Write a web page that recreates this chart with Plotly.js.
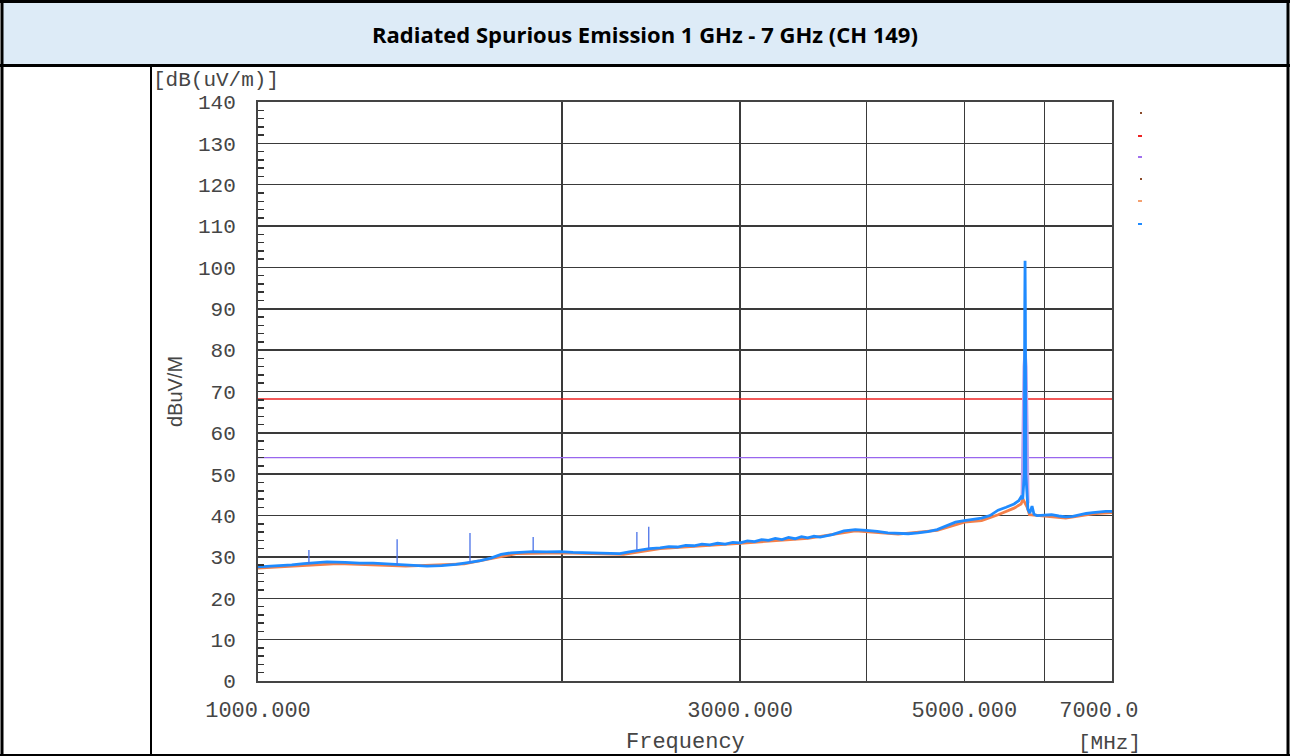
<!DOCTYPE html>
<html>
<head>
<meta charset="utf-8">
<script src="https://cdn.plot.ly/plotly-3.0.1.min.js"></script>
<style>
  body { margin: 0; background: #fff; }
  #myPlot { width: 1290px; height: 756px; }
</style>
</head>
<body>
<div id="myPlot"></div>
<script>
// peak trace (blue), MHz / dBuV/m
const freqs = [1000, 1040, 1080, 1110, 1170, 1220, 1260, 1300, 1340, 1380, 1420, 1470, 1520, 1570, 1620,
  1660, 1700, 1740, 1780, 1820, 1870, 1930, 1990, 2050, 2120, 2200, 2280, 2330, 2380, 2440, 2500,
  2550, 2600, 2650, 2700, 2750, 2800, 2850, 2900, 2950, 3000, 3050, 3100, 3150, 3200, 3250, 3300,
  3350, 3400, 3450, 3500, 3550, 3600, 3700, 3800, 3900, 4000, 4100,
  4200, 4300, 4400, 4500, 4600, 4700, 4800, 4900, 5000, 5100, 5200, 5300, 5400, 5500, 5600, 5660,
  5690, 5712, 5732, 5738, 5742, 5746, 5752, 5780, 5805, 5834, 5860, 5900, 6000, 6100, 6200, 6300,
  6400, 6500, 6600, 6700, 6800, 6900, 7000];
const peakVals = [27.6, 27.8, 28.1, 28.4, 28.8, 28.7, 28.5, 28.5, 28.3, 28.1, 27.9, 27.8, 27.9, 28.2, 28.7,
  29.1, 29.7, 30.6, 31.0, 31.2, 31.3, 31.2, 31.3, 31.1, 31.0, 30.9, 30.8, 31.2, 31.6, 32.0, 32.2,
  32.5, 32.4, 32.8, 32.7, 33.1, 32.9, 33.3, 33.1, 33.5, 33.4, 33.9, 33.7, 34.2, 34.0, 34.5, 34.2,
  34.7, 34.4, 34.9, 34.6, 35.0, 34.8, 35.4, 36.3, 36.6, 36.4, 36.2,
  35.8, 35.7, 35.6, 35.8, 36.1, 36.6, 37.6, 38.4, 38.8, 39.1, 39.4, 40.0, 41.3, 42.0, 42.8, 43.6,
  44.5, 44.0, 50.0, 90.0, 101.6, 90.0, 50.0, 41.5, 40.6, 42.3, 40.3, 40.0, 40.1, 40.2, 39.9, 39.7,
  39.8, 40.2, 40.5, 40.7, 40.9, 41.0, 41.0];

// narrow spurs on the peak trace
const spurFreqs = [1123, 1373, 1621, 1872, 2371, 2436];
const spurBase = [28.4, 28.1, 28.7, 31.3, 31.5, 32.0];
const spurTop = [31.7, 34.3, 35.8, 34.8, 36.0, 37.3];

// average trace (orange)
const avgFreqs = [1000, 1200, 1400, 1600, 1800, 2000, 2300, 2500, 3000, 3500, 3900, 4300, 4700,
  5000, 5200, 5400, 5600, 5690, 5715, 5770, 5800, 6000, 6300, 6700, 7000];
const avgVals = [27.3, 28.4, 27.8, 28.3, 30.8, 31.0, 30.6, 32.0, 33.3, 34.5, 36.3, 35.5, 36.4,
  38.4, 38.8, 40.2, 41.8, 42.8, 44.0, 42.0, 40.2, 39.8, 39.4, 40.4, 40.7];

// average peak (lavender)
const avgPeakFreqs = [5700, 5712, 5725, 5742, 5759, 5772, 5785];
const avgPeakVals = [45.0, 62.0, 76.0, 80.8, 76.0, 62.0, 43.0];

// limit lines
const limitFreqs = [1000, 7000];
const peakLimit = [68.2, 68.2];
const avgLimit = [54, 54];

// axis ticks
const xTickVals = [1000, 2000, 3000, 4000, 5000, 6000, 7000];
const xTickText = ['1000.000', '', '3000.000', '', '5000.000', '', '7000.0\u00a0\u00a0'];

const W = 1290, H = 756;
const px = x => x / W;
const py = y => 1 - y / H;

const mono = 'Liberation Mono, Courier New, monospace';
const textColor = '#454545';
const gridColor = '#3a3a3a';

const spurX = [], spurY = [];
for (let i = 0; i < spurFreqs.length; i++) {
  spurX.push(spurFreqs[i], spurFreqs[i], null);
  spurY.push(spurBase[i], spurTop[i], null);
}

const traces = [
  { x: limitFreqs, y: peakLimit, mode: 'lines', line: { color: '#ee2222', width: 1.4 } },
  { x: limitFreqs, y: avgLimit, mode: 'lines', line: { color: '#9966ee', width: 1.4 } },
  { x: avgFreqs, y: avgVals, mode: 'lines', line: { color: '#f4804a', width: 2.8 } },
  { x: avgPeakFreqs, y: avgPeakVals, mode: 'lines', line: { color: '#b9a2ee', width: 2.5 } },
  { x: freqs, y: peakVals, mode: 'lines', line: { color: '#1f8bff', width: 2.8 } },
  { x: spurX, y: spurY, mode: 'lines', line: { color: '#4a72e8', width: 1.3 } }
];

// table frame
const shapes = [
  { type: 'rect', xref: 'paper', yref: 'paper', x0: px(3), x1: px(1288), y0: py(3), y1: py(65),
    fillcolor: '#DDEBF7', line: { width: 0 }, layer: 'below' },
  { type: 'line', xref: 'paper', yref: 'paper', x0: 0, x1: 1, y0: py(1.5), y1: py(1.5), line: { color: '#000', width: 3 } },
  { type: 'line', xref: 'paper', yref: 'paper', x0: 0, x1: 1, y0: py(65.5), y1: py(65.5), line: { color: '#000', width: 3 } },
  { type: 'line', xref: 'paper', yref: 'paper', x0: px(2), x1: px(2), y0: 0, y1: 1, line: { color: '#000', width: 3 } },
  { type: 'line', xref: 'paper', yref: 'paper', x0: px(151), x1: px(151), y0: 0, y1: py(66), line: { color: '#000', width: 2 } },
  { type: 'line', xref: 'paper', yref: 'paper', x0: px(1288), x1: px(1288), y0: 0, y1: 1, line: { color: '#000', width: 3 } },
  { type: 'line', xref: 'paper', yref: 'paper', x0: 0, x1: 1, y0: py(755), y1: py(755), line: { color: '#000', width: 2 } }
];

// tiny legend marks at the right of the plot
const legendMarks = [
  { y: 113, color: '#8a4a2a', w: 2 },
  { y: 136, color: '#ee2222', w: 4 },
  { y: 157, color: '#a070ee', w: 4 },
  { y: 179, color: '#8a4a2a', w: 2 },
  { y: 201, color: '#f4a070', w: 4 },
  { y: 224, color: '#1f8bff', w: 4 }
];
legendMarks.forEach(m => {
  shapes.push({ type: 'line', xref: 'paper', yref: 'paper', x0: px(1142 - m.w), x1: px(1142),
    y0: py(m.y), y1: py(m.y), line: { color: m.color, width: 2 } });
});

const layout = {
  width: W,
  height: H,
  margin: { l: 0, r: 0, t: 0, b: 0 },
  paper_bgcolor: '#fff',
  plot_bgcolor: '#fff',
  showlegend: false,
  xaxis: {
    type: 'log',
    range: [Math.log10(1000), Math.log10(7000)],
    domain: [px(258), px(1112)],
    tickmode: 'array',
    tickvals: xTickVals,
    ticktext: xTickText,
    ticks: '',
    ticklabelstandoff: 8,
    tickfont: { family: mono, size: 22, color: textColor },
    showgrid: true,
    gridcolor: gridColor,
    gridwidth: 1.5,
    showline: true,
    mirror: true,
    linecolor: '#444',
    linewidth: 2,
    zeroline: false,
    automargin: false
  },
  yaxis: {
    range: [0, 140],
    domain: [py(681), py(102)],
    tick0: 0,
    dtick: 10,
    ticks: '',
    ticklabelstandoff: 16,
    tickfont: { family: mono, size: 21, color: textColor },
    showgrid: true,
    gridcolor: gridColor,
    gridwidth: 1.5,
    minor: { ticks: 'inside', ticklen: 6, dtick: 2, tickcolor: '#333', tickwidth: 1.5, showgrid: false },
    showline: true,
    mirror: true,
    linecolor: '#444',
    linewidth: 2,
    zeroline: false,
    automargin: false,
    title: { text: 'dBuV/M', font: { family: 'Liberation Sans, Arial, sans-serif', size: 20, color: textColor }, standoff: 10 }
  },
  shapes: shapes,
  annotations: [
    { text: '<b>Radiated Spurious Emission 1 GHz - 7 GHz (CH 149)</b>', xref: 'paper', yref: 'paper',
      x: px(645), y: py(34), xanchor: 'center', yanchor: 'middle', showarrow: false,
      font: { family: 'Open Sans, sans-serif', size: 22, color: '#000' } },
    { text: '[dB(uV/m)]', xref: 'paper', yref: 'paper', x: px(151), y: py(80), xanchor: 'left', yanchor: 'middle',
      showarrow: false, font: { family: mono, size: 21, color: textColor } },
    { text: 'Frequency', xref: 'paper', yref: 'paper', x: px(685), y: py(742), xanchor: 'center', yanchor: 'middle',
      showarrow: false, font: { family: mono, size: 22, color: textColor } },
    { text: '[MHz]', xref: 'paper', yref: 'paper', x: px(1143), y: py(743), xanchor: 'right', yanchor: 'middle',
      showarrow: false, font: { family: mono, size: 21, color: textColor } }
  ]
};

Plotly.newPlot('myPlot', traces, layout, { displayModeBar: false, staticPlot: true });
</script>
</body>
</html>
